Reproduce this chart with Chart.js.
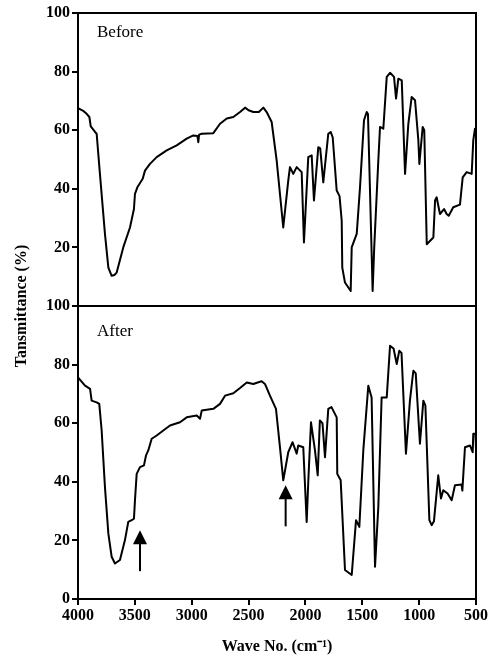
<!DOCTYPE html>
<html>
<head>
<meta charset="utf-8">
<title>IR spectra before / after</title>
<script src="https://cdn.jsdelivr.net/npm/chart.js@4.4.0/dist/chart.umd.min.js"></script>
<style>
    html, body { margin: 0; padding: 0; background: #fff; }
    #wrap { width: 492px; height: 665px; }
</style>
</head>
<body>
<div id="wrap"><canvas id="ir" width="492" height="665"></canvas></div>
<script>
// ─── Data ────────────────────────────────────────────

var beforeWave = [4000, 3950, 3924, 3900, 3888, 3850, 3836, 3807, 3763, 3733, 3704, 3680, 3660, 3602, 3543, 3508, 3499, 3478, 3431, 3411,
    3367, 3308, 3220, 3132, 3044, 2986, 2950, 2942, 2935, 2912, 2810, 2751, 2692, 2634, 2575, 2531, 2500, 2458, 2410, 2370,
    2341, 2297, 2253, 2195, 2151, 2136, 2107, 2077, 2033, 2013, 1975, 1945, 1925, 1887, 1870, 1843, 1799, 1778, 1760, 1725,
    1700, 1681, 1676, 1652, 1602, 1593, 1549, 1520, 1485, 1461, 1450, 1409, 1395, 1359, 1344, 1315, 1285, 1256, 1221, 1203,
    1183, 1153, 1124, 1095, 1066, 1036, 1007, 998, 969, 955, 933, 875, 860, 846, 817, 781, 758, 740, 700, 641,
    617, 582, 538, 524, 509, 500];
var beforeT = [67.5, 66.5, 65.6, 64.5, 61.3, 59.4, 58.8, 45.0, 24.6, 13.1, 10.3, 10.6, 11.4, 20.0, 26.8, 33.1, 38.3, 40.5, 43.4, 46.2,
    48.5, 50.8, 53.1, 54.8, 57.1, 58.2, 58.0, 55.9, 58.5, 58.8, 59.0, 62.2, 64.0, 64.5, 66.2, 67.7, 66.8, 66.2, 66.2, 67.7,
    66.2, 62.8, 49.7, 26.8, 42.8, 47.4, 45.1, 47.4, 45.7, 21.7, 50.8, 51.4, 36.0, 54.2, 53.8, 42.2, 58.8, 59.4, 57.5, 39.4,
    37.5, 29.1, 13.1, 8.0, 5.1, 20.0, 24.6, 40.5, 63.4, 66.2, 65.5, 5.1, 20.0, 49.7, 61.1, 60.5, 78.2, 79.6, 78.2, 70.8,
    77.6, 77.0, 45.1, 62.2, 71.3, 70.2, 56.5, 48.5, 61.1, 60.0, 21.1, 23.4, 36.0, 37.1, 31.4, 33.1, 31.4, 30.8, 33.7, 34.6,
    43.9, 45.7, 45.1, 56.5, 60.5, 58.0];

var afterWave = [4000, 3938, 3894, 3880, 3836, 3813, 3792, 3763, 3733, 3704, 3675, 3631, 3587, 3558, 3528, 3508, 3499, 3484, 3455, 3420,
    3402, 3382, 3352, 3308, 3250, 3191, 3103, 3044, 2956, 2927, 2912, 2810, 2751, 2707, 2634, 2575, 2516, 2458, 2420, 2385,
    2356, 2312, 2259, 2224, 2195, 2151, 2113, 2077, 2063, 2019, 1989, 1975, 1951, 1916, 1892, 1873, 1850, 1828, 1799, 1771,
    1725, 1720, 1690, 1652, 1593, 1555, 1526, 1491, 1447, 1418, 1388, 1359, 1330, 1285, 1256, 1225, 1197, 1175, 1155, 1116,
    1081, 1051, 1030, 993, 963, 945, 910, 890, 870, 832, 808, 788, 750, 714, 685, 627, 620, 597, 553, 529,
    524, 505, 500];
var afterT = [75.6, 72.8, 71.7, 67.7, 67.1, 66.6, 57.5, 38.2, 22.3, 14.4, 12.1, 13.3, 20.1, 26.3, 26.9, 27.4, 33.7, 42.7, 45.0, 45.6,
    49.0, 50.7, 54.7, 55.8, 57.5, 59.2, 60.3, 62.0, 62.6, 61.5, 64.3, 64.9, 66.6, 69.4, 70.2, 72.0, 73.9, 73.4, 73.9, 74.3,
    73.4, 69.4, 64.9, 51.8, 40.5, 50.1, 53.5, 49.6, 52.4, 51.8, 26.3, 40.0, 60.3, 50.7, 42.2, 60.9, 60.0, 48.4, 64.9, 65.5,
    62.0, 42.7, 40.5, 9.9, 8.2, 26.9, 24.6, 50.7, 72.8, 68.8, 11.0, 31.4, 68.8, 68.8, 86.4, 85.5, 80.2, 84.7, 84.0, 49.6,
    67.7, 77.9, 77.0, 53.0, 67.7, 66.0, 26.9, 25.2, 26.5, 42.2, 34.3, 37.1, 36.0, 33.7, 38.8, 39.1, 37.0, 51.8, 52.4, 50.1,
    56.4, 56.4, 51.0];

var xTicks = [4000, 3500, 3000, 2500, 2000, 1500, 1000, 500];
var yTicks = [0, 20, 40, 60, 80, 100];

// arrows in the "After" panel: [wave no., tail value, tip value]
var arrowMarks = [[3455, 9.5, 23.5], [2174, 24.8, 38.8]];

// ─── Helpers ─────────────────────────────────────────

var serif = '"Liberation Serif", "Times New Roman", serif';

function toPoints(xs, ys) {
    return xs.map(function(x, i) { return { x: x, y: ys[i] }; });
}

function plainLabel(v) { return String(v); }

function yAxis(hideZero) {
    return {
        type: 'linear', position: 'left', stack: 'ir', stackWeight: 1,
        min: 0, max: 100,
        afterBuildTicks: function(s) {
            s.ticks = yTicks.filter(function(v) { return !(hideZero && v === 0); })
                            .map(function(v) { return { value: v }; });
        },
        afterFit: function(s) { s.width = 47; },
        grid: { drawOnChartArea: false, drawTicks: true, tickLength: 6, color: '#000', lineWidth: 2 },
        border: { display: true, color: '#000', width: 2 },
        ticks: { color: '#000', padding: 2, callback: plainLabel, font: { family: serif, size: 16, weight: 'bold' } }
    };
}

function line(data, axis) {
    return {
        data: data, yAxisID: axis,
        borderColor: '#000', borderWidth: 2, pointRadius: 0,
        tension: 0, fill: false, borderJoinStyle: 'round'
    };
}

// frame, panel divider, panel labels and arrows
var framePlugin = {
    id: 'frame',
    afterDraw: function(chart) {
        var c = chart.ctx, a = chart.chartArea;
        var x = chart.scales.x, yb = chart.scales.yBefore, ya = chart.scales.yAfter;
        c.save();
        c.strokeStyle = '#000';
        c.fillStyle = '#000';
        c.lineWidth = 2;
        c.strokeRect(a.left, a.top, a.right - a.left, a.bottom - a.top);
        c.beginPath();
        c.moveTo(a.left, yb.bottom);
        c.lineTo(a.right, yb.bottom);
        c.stroke();

        c.font = '17px ' + serif;
        c.textBaseline = 'middle';
        c.fillText('Before', a.left + 19, yb.top + 20);
        c.fillText('After', a.left + 19, ya.top + 26);

        arrowMarks.forEach(function(m) {
            var px = x.getPixelForValue(m[0]);
            var y0 = ya.getPixelForValue(m[1]);
            var y1 = ya.getPixelForValue(m[2]);
            c.beginPath();
            c.moveTo(px, y0);
            c.lineTo(px, y1 + 12);
            c.stroke();
            c.beginPath();
            c.moveTo(px, y1);
            c.lineTo(px - 7, y1 + 14);
            c.lineTo(px + 7, y1 + 14);
            c.closePath();
            c.fill();
        });
        c.restore();
    }
};

// ─── Chart ───────────────────────────────────────────

new Chart(document.getElementById('ir').getContext('2d'), {
    type: 'line',
    data: {
        datasets: [
            line(toPoints(afterWave, afterT), 'yAfter'),
            line(toPoints(beforeWave, beforeT), 'yBefore')
        ]
    },
    options: {
        responsive: false,
        animation: false,
        layout: { padding: { top: 13, right: 16, left: 0, bottom: 0 } },
        plugins: {
            legend: { display: false },
            tooltip: { enabled: false },
            title: {
                display: true, text: 'Tansmittance (%)', position: 'left', fullSize: false,
                color: '#000', padding: { top: 13, bottom: 0 },
                font: { family: serif, size: 16, weight: 'bold', lineHeight: 1.125 }
            }
        },
        scales: {
            x: {
                type: 'linear', reverse: true, min: 500, max: 4000,
                afterBuildTicks: function(s) { s.ticks = xTicks.map(function(v) { return { value: v }; }); },
                afterFit: function(s) { s.height = 66; },
                grid: { drawOnChartArea: false, drawTicks: true, tickLength: 6, color: '#000', lineWidth: 2 },
                border: { display: true, color: '#000', width: 2 },
                ticks: { color: '#000', padding: 1, maxRotation: 0, callback: plainLabel, font: { family: serif, size: 16, weight: 'bold' } },
                title: {
                    display: true, text: 'Wave No. (cm\u207B\u00B9)', color: '#000',
                    padding: { top: 0, bottom: 9 },
                    font: { family: serif, size: 16, weight: 'bold', lineHeight: 1.125 }
                }
            },
            yAfter: yAxis(false),
            yBefore: yAxis(true)
        }
    },
    plugins: [framePlugin]
});
</script>
</body>
</html>
